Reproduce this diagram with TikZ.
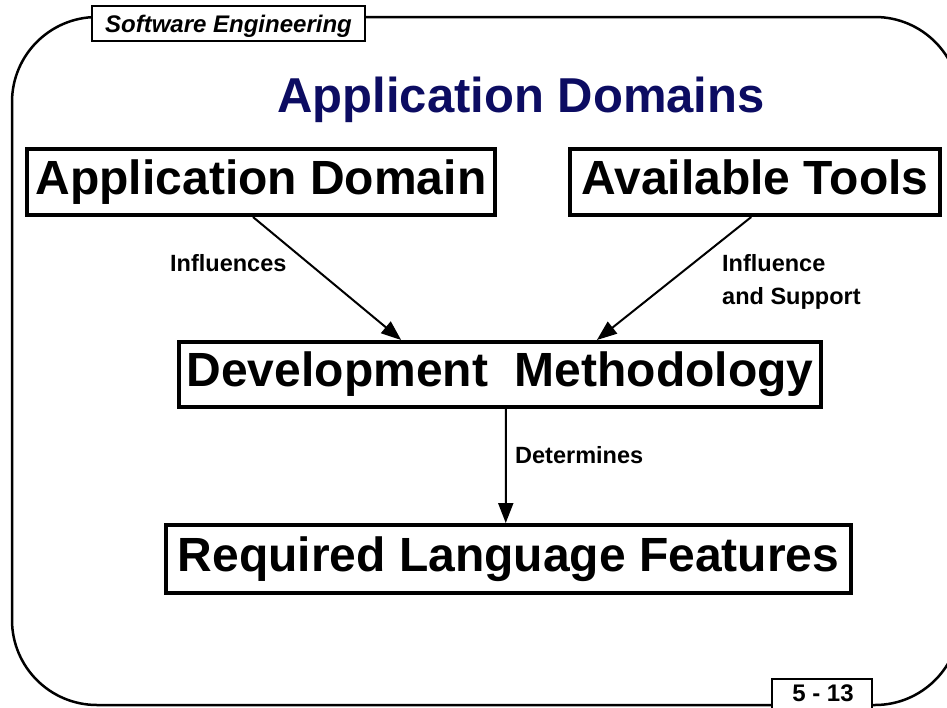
\documentclass[tikz,border=0pt]{standalone}
\usepackage{fontspec}
\setmainfont{Liberation Sans}
\usetikzlibrary{arrows.meta,calc}
\definecolor{titlenavy}{RGB}{12,12,98}
\begin{document}
\begin{tikzpicture}[x=1pt,y=-1pt,
  bigbox/.style={draw=black,line width=4pt,fill=white,inner sep=0pt,
    font=\fontsize{48}{56}\selectfont\bfseries,text height=34pt,text depth=10pt},
  tagbox/.style={draw=black,line width=2pt,fill=white},
  tagtext/.style={inner sep=0pt,font=\fontsize{24}{28}\selectfont\bfseries},
  lbl/.style={inner sep=0pt,font=\fontsize{23.5}{33}\selectfont\bfseries,align=left},
  link/.style={line width=2pt,-{Triangle[length=20pt,width=15pt]}}]
\useasboundingbox (0,0) rectangle (947,707);
% slide frame
\begin{scope}
\clip (0,0) rectangle (947,707);
\draw[line width=2.5pt,rounded corners=85pt] (12,17) rectangle (960,705);
% header and page tags
\draw[tagbox] (92,6) rectangle (365,41);
\draw[tagbox] (772,679) rectangle (872,712);
\end{scope}
\node[tagtext,anchor=base] (hdr) at (228.5,32) {\itshape Software Engineering};
\node[tagtext,anchor=base] (pg) at (823,701) {5 - 13};
% title
\node[inner sep=0pt,anchor=base,text=titlenavy,
  font=\fontsize{49}{58}\selectfont\bfseries] (title) at (521,112) {Application Domains};
% boxes
\node[bigbox,minimum width=468pt,minimum height=66pt] (app) at (261,182)
  {Application Domain};
\node[bigbox,minimum width=370pt,minimum height=66pt] (tools) at (755,182)
  {Available Tools};
\node[bigbox,minimum width=642pt,minimum height=65pt] (dev) at (500,374.5)
  {Development\ \ Methodology};
\node[bigbox,minimum width=685pt,minimum height=68pt] (req) at (508.5,559)
  {Required Language Features};
% connectors
\draw[link] ($(app.south west)!0.483!(app.south east)$) -- ($(dev.north west)!0.347!(dev.north east)$);
\draw[link] ($(tools.south west)!0.49!(tools.south east)$) -- ($(dev.north west)!0.65!(dev.north east)$);
\draw[link] ($(dev.south west)!0.509!(dev.south east)$) -- ($(req.north west)!0.496!(req.north east)$);
% connector labels
\node[lbl,anchor=base west] (l1) at (170,271) {Influences};
\node[lbl,anchor=base west] (l2) at (722,304) {Influence\\and Support};
\node[lbl,anchor=base west] (l3) at (515,463) {Determines};
\end{tikzpicture}
\end{document}
